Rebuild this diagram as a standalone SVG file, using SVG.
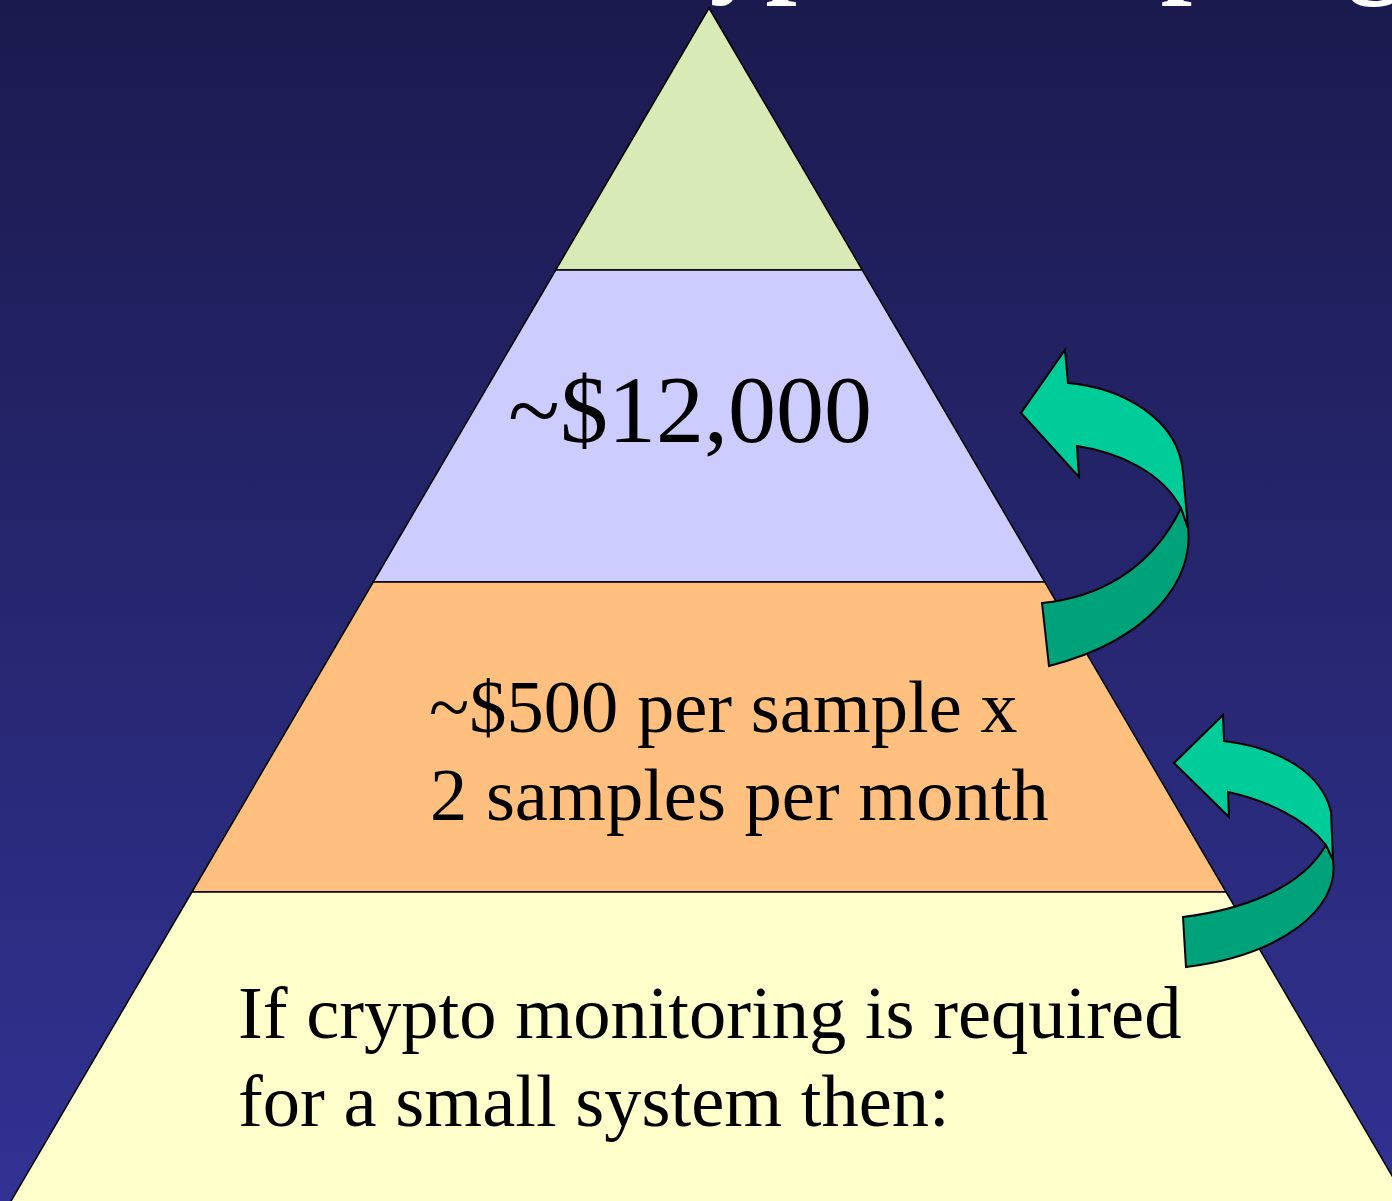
<svg xmlns="http://www.w3.org/2000/svg" width="1392" height="1201" viewBox="0 0 1392 1201">
  <defs>
    <linearGradient id="bg" x1="0" y1="0" x2="0" y2="1">
      <stop offset="0" stop-color="#1b1a4e"/>
      <stop offset="1" stop-color="#313292"/>
    </linearGradient>
  </defs>
  <style>
    .tier { stroke: #000; stroke-width: 1.5; stroke-linejoin: miter; }
    .lbl { font-family: "Liberation Serif", "Times New Roman", serif; fill: #000; }
    .title { font-family: "Liberation Serif", "Times New Roman", serif; font-weight: bold; fill: #fff; font-size: 112px; }
    .arrow-front { fill: #00cc99; stroke: #000; stroke-width: 2; stroke-linejoin: miter; }
    .arrow-back { fill: #00a27a; stroke: #000; stroke-width: 2; stroke-linejoin: miter; }
  </style>
  <rect x="0" y="0" width="1392" height="1201" fill="url(#bg)"/>
  <text class="title" x="579" y="-18">Crypto Sampling</text>

  <g id="tier-top">
    <polygon class="tier" fill="#d8eab5" points="709,8 862.3,270 555.7,270"/>
  </g>
  <g id="tier-12000">
    <polygon class="tier" fill="#ccccff" points="555.7,270 862.3,270 1044.8,582 373.2,582"/>
    <text class="lbl" x="508" y="442" font-size="96">~$12,000</text>
  </g>
  <g id="tier-500">
    <polygon class="tier" fill="#ffbf7f" points="373.2,582 1044.8,582 1226.1,892 191.9,892"/>
    <text class="lbl" x="429" y="732" font-size="74.5">~$500 per sample x</text>
    <text class="lbl" x="430" y="820" font-size="74.5">2 samples per month</text>
  </g>
  <g id="tier-base">
    <polygon class="tier" fill="#ffffcc" points="191.9,892 1226.1,892 1412,1210 5.8,1210"/>
    <text class="lbl" x="238" y="1038" font-size="74.5">If crypto monitoring is required</text>
    <text class="lbl" x="238" y="1126" font-size="74.5">for a small system then:</text>
  </g>

  <g id="connectors">
    <g id="arrow-upper">
      <path class="arrow-back" d="M 1042,603 C 1095,598 1150,572 1181,508 L 1188,528 C 1194,580 1150,640 1049,666 Z"/>
      <path class="arrow-front" d="M 1068,383 L 1065,350 L 1021,413 L 1079,477 L 1077,446 C 1118,452 1162,472 1181,508 L 1188,528 L 1183,472 C 1178,418 1122,388 1068,383 Z"/>
    </g>
    <g id="arrow-lower">
      <path class="arrow-back" d="M 1183,917 C 1240,910 1300,890 1326,845 L 1333,860 C 1340,910 1280,955 1186,967 Z"/>
      <path class="arrow-front" d="M 1224,741 L 1223,715 L 1174,763 L 1229,817 L 1228,792 C 1265,800 1305,818 1326,845 L 1333,860 L 1331,812 C 1322,773 1280,748 1224,741 Z"/>
    </g>
  </g>
</svg>
